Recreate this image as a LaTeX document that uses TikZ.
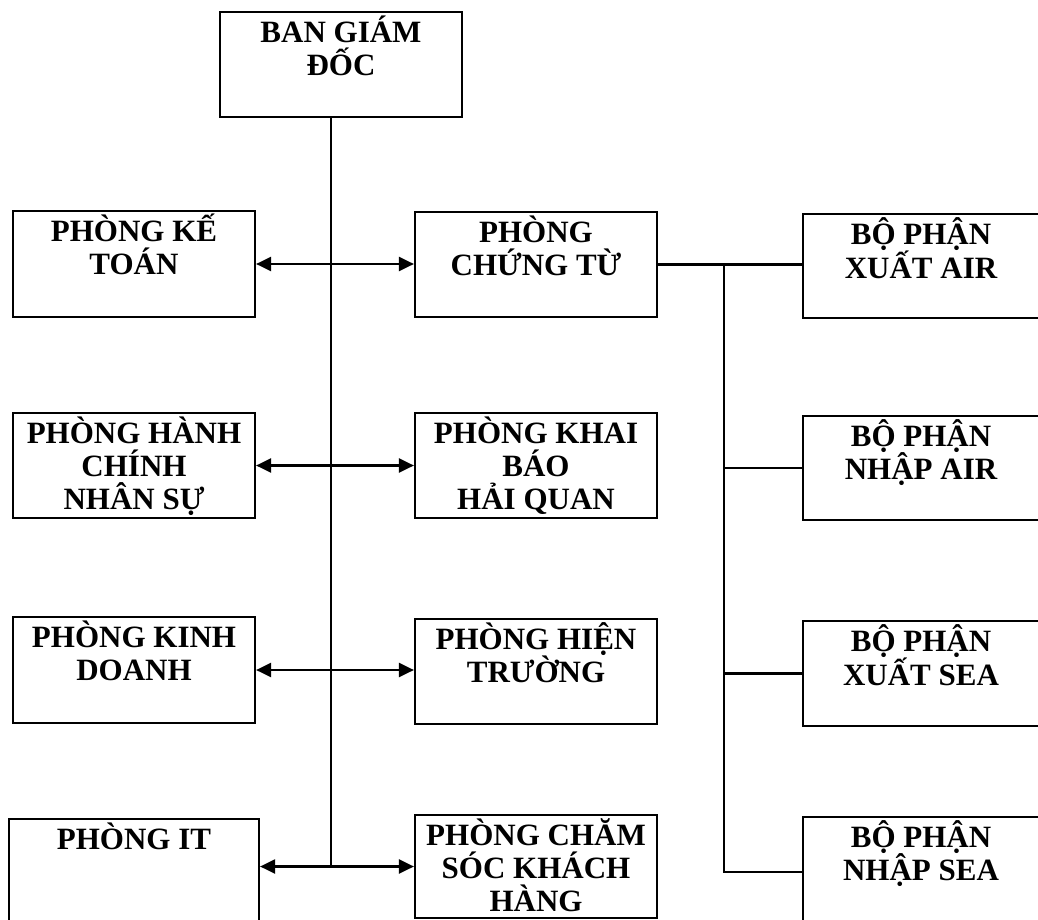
\documentclass[tikz,border=0pt]{standalone}
\usepackage{fontspec}
\setmainfont{Liberation Serif}
\usetikzlibrary{arrows.meta}
\newcommand{\lblstrut}{\rule{0pt}{31pt}}

\begin{document}
\begin{tikzpicture}[x=1pt, y=-1pt,
  unit/.style={draw, line width=2.2pt, inner sep=0pt,
               minimum width=242, minimum height=105},
  part/.style={unit, minimum width=236, minimum height=104},
  lbl/.style={anchor=north, inner sep=0pt, align=center,
              font=\fontsize{31}{33}\selectfont\bfseries},
  link/.style={line width=2.2pt},
  both/.style={link, {Triangle[length=15pt,width=14pt]}-{Triangle[length=15pt,width=14pt]}}
]
  \useasboundingbox (0,0) rectangle (1038,920);
  \clip (0,0) rectangle (1038,920);

  % Board of directors
  \node[unit] (bgd) at (341,64.5) {};

  % Left column of offices
  \node[unit, minimum height=106] (kt) at (134,264)   {};
  \node[unit]                     (hc) at (134,465.5) {};
  \node[unit, minimum height=106] (kd) at (134,670)   {};
  \node[unit, minimum width=250, minimum height=110] (it) at (134,874) {};

  % Middle column of offices
  \node[unit]                     (ct) at (536,264.5) {};
  \node[unit]                     (kb) at (536,465.5) {};
  \node[unit]                     (ht) at (536,671.5) {};
  \node[unit, minimum height=103] (cs) at (536,866.5) {};

  % Sections under the document office
  \node[part]                     (xa) at (921,266)   {};
  \node[part]                     (na) at (921,468)   {};
  \node[part, minimum height=105] (xs) at (921,673.5) {};
  \node[part, minimum height=110] (ns) at (921,872)   {};

  % Labels, set from the top of each box
  \node[lbl] (bgd-t) at (bgd.north) {\lblstrut BAN GIÁM\\ĐỐC};
  \node[lbl] (kt-t)  at (kt.north)  {\lblstrut PHÒNG KẾ\\TOÁN};
  \node[lbl] (hc-t)  at (hc.north)  {\lblstrut PHÒNG HÀNH\\CHÍNH\\NHÂN SỰ};
  \node[lbl] (kd-t)  at (kd.north)  {\lblstrut PHÒNG KINH\\DOANH};
  \node[lbl] (it-t)  at (it.north)  {\lblstrut PHÒNG IT};
  \node[lbl] (ct-t)  at (ct.north)  {\lblstrut PHÒNG\\CHỨNG TỪ};
  \node[lbl] (kb-t)  at (kb.north)  {\lblstrut PHÒNG KHAI\\BÁO\\HẢI QUAN};
  \node[lbl] (ht-t)  at (ht.north)  {\lblstrut PHÒNG HIỆN\\TRƯỜNG};
  \node[lbl] (cs-t)  at (cs.north)  {\lblstrut PHÒNG CHĂM\\SÓC KHÁCH\\HÀNG};
  \node[lbl] (xa-t)  at (xa.north)  {\lblstrut BỘ PHẬN\\XUẤT AIR};
  \node[lbl] (na-t)  at (na.north)  {\lblstrut BỘ PHẬN\\NHẬP AIR};
  \node[lbl] (xs-t)  at (xs.north)  {\lblstrut BỘ PHẬN\\XUẤT SEA};
  \node[lbl] (ns-t)  at (ns.north)  {\lblstrut BỘ PHẬN\\NHẬP SEA};

  % Trunk line from the board
  \coordinate (tb) at (331,866.5);
  \draw[link] (bgd.south -| tb) -- (tb);

  % Two-way links across the trunk
  \draw[both] (kt.east) -- (kt.east -| ct.west);
  \draw[both] (hc.east) -- (hc.east -| kb.west);
  \draw[both] (kd.east) -- (kd.east -| ht.west);
  \draw[both] (it.east |- cs.west) -- (cs.west);

  % Branch to the sections
  \coordinate (br) at (724,264.5);
  \draw[link] (ct.east) -- (ct.east -| xa.west);
  \draw[link] (br) |- (ns.west);
  \draw[link] (br |- na.west) -- (na.west);
  \draw[link] (br |- xs.west) -- (xs.west);
\end{tikzpicture}
\end{document}
